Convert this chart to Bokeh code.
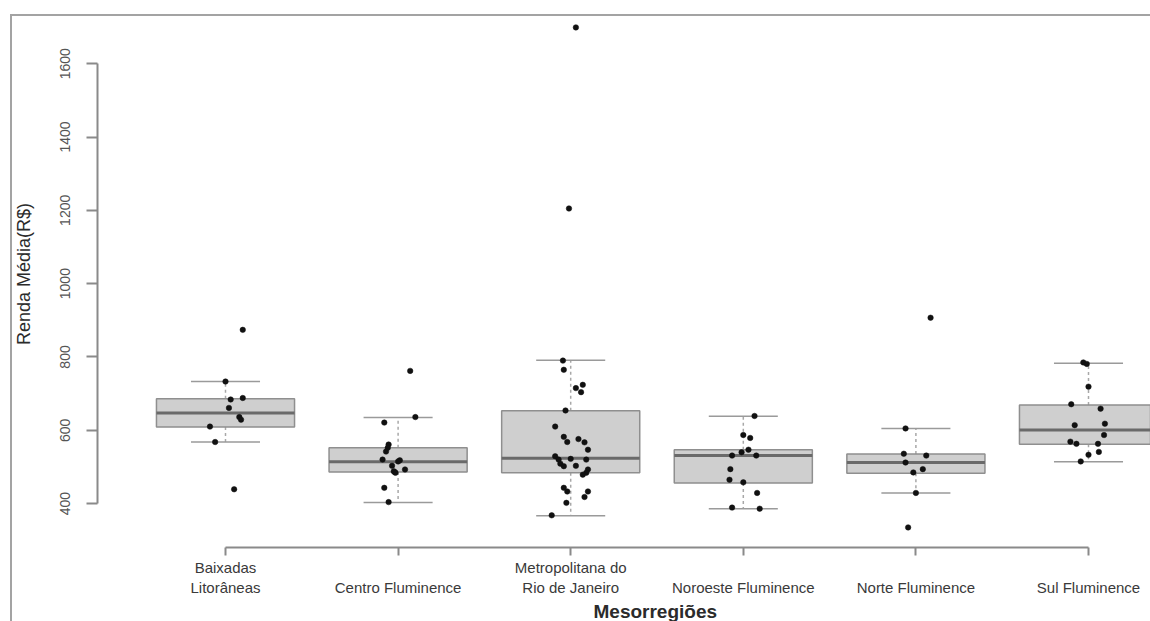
import numpy as np
from bokeh.plotting import figure
from bokeh.models import Range1d, FixedTicker, ColumnDataSource, Title
from bokeh.embed import file_html
from bokeh.resources import INLINE

# ---------------- data ----------------
categories = ["Baixadas\nLitorâneas", "\nCentro Fluminence", "Metropolitana do\nRio de Janeiro",
              "\nNoroeste Fluminence", "\nNorte Fluminence", "\nSul Fluminence"]

# box statistics (R$): lower whisker, Q1, median, Q3, upper whisker
whisker_low = [568, 403, 367, 386, 429, 514]
q1 = [609, 486, 484, 456, 483, 562]
median = [647, 514, 524, 531, 512, 601]
q3 = [686, 552, 653, 547, 535, 669]
whisker_high = [733, 635, 791, 638, 605, 783]

# individual municipalities (value, horizontal jitter in category units)
baixadas_vals = [874, 733, 684, 688, 661, 636, 629, 610, 568, 439]
baixadas_jit = [0.10, 0.00, 0.03, 0.10, 0.02, 0.08, 0.09, -0.09, -0.06, 0.05]

centro_vals = [762, 636, 621, 561, 552, 542, 520, 518, 515, 503, 493, 488, 486, 484, 443, 404]
centro_jit = [0.07, 0.10, -0.08, -0.055, -0.06, -0.07, -0.09, 0.01, 0.00, -0.035, 0.04, -0.025,
              -0.02, -0.015, -0.08, -0.055]

metro_vals = [1699, 1205, 790, 765, 724, 715, 704, 654, 610, 582, 576, 568, 567, 547, 529,
              522, 520, 520, 509, 503, 502, 493, 484, 479, 443, 433, 433, 418, 402, 368]
metro_jit = [0.03, -0.01, -0.045, -0.04, 0.07, 0.03, 0.06, -0.03, -0.09, -0.04, 0.045, -0.02,
             0.08, 0.10, -0.09, 0.00, -0.07, 0.09, -0.06, 0.03, -0.04, 0.10, 0.09, 0.07,
             -0.04, -0.02, 0.10, 0.08, -0.025, -0.11]

noroeste_vals = [639, 587, 579, 547, 540, 531, 531, 494, 465, 458, 429, 389, 386]
noroeste_jit = [0.065, 0.00, 0.04, 0.03, -0.01, -0.065, 0.075, -0.075, -0.08, 0.00, 0.08,
                -0.065, 0.095]

norte_vals = [907, 605, 536, 531, 512, 494, 485, 429, 335]
norte_jit = [0.085, -0.06, -0.07, 0.06, -0.06, 0.04, -0.015, 0.00, -0.045]

sul_vals = [785, 781, 719, 671, 659, 614, 618, 587, 569, 563, 563, 541, 533, 515]
sul_jit = [-0.03, -0.01, 0.00, -0.10, 0.07, -0.08, 0.095, 0.09, -0.105, -0.07, 0.055, 0.06,
           0.00, -0.045]

y_ticks = [400, 600, 800, 1000, 1200, 1400, 1600]
x_title = "Mesorregiões"
y_title = "Renda Média(R$)"

# ---------------- build sources ----------------
pos = np.arange(1, len(categories) + 1, dtype=float)
BOX_W = 0.8
CAP_W = 0.4

box_src = ColumnDataSource(dict(
    x=pos, q1=q1, q3=q3, med=median, lo=whisker_low, hi=whisker_high,
    x0=pos - BOX_W / 2, x1=pos + BOX_W / 2,
    c0=pos - CAP_W / 2, c1=pos + CAP_W / 2,
))

groups = [(baixadas_vals, baixadas_jit), (centro_vals, centro_jit), (metro_vals, metro_jit),
          (noroeste_vals, noroeste_jit), (norte_vals, norte_jit), (sul_vals, sul_jit)]
px, py = [], []
for p_i, (vals, jit) in zip(pos, groups):
    px.extend([p_i + j for j in jit])
    py.extend(vals)
pt_src = ColumnDataSource(dict(x=px, y=py))

# ---------------- figure ----------------
p = figure(width=1150, height=621, output_backend="svg", toolbar_location=None,
           x_range=Range1d(0.2584, 6.3592), y_range=Range1d(280.2, 1772.4),
           min_border_left=97, min_border_right=0, min_border_top=0, min_border_bottom=73)
p.background_fill_alpha = 0
p.border_fill_alpha = 0
p.outline_line_color = None
p.xgrid.visible = False
p.ygrid.visible = False
p.styles = {
    "background": ("linear-gradient(#a3a3a3,#a3a3a3) 10px 14px / 2px calc(100% - 14px) no-repeat, "
                   "linear-gradient(#a3a3a3,#a3a3a3) 10px 14px / calc(100% - 10px) 2px no-repeat"),
}

GRAY_LINE = "#9a9a9a"
# whiskers (dashed)
p.segment(x0="x", x1="x", y0="q3", y1="hi", source=box_src, line_color="#a8a8a8",
          line_width=1.5, line_dash="3 3")
p.segment(x0="x", x1="x", y0="q1", y1="lo", source=box_src, line_color="#a8a8a8",
          line_width=1.5, line_dash="3 3")
# caps
p.segment(x0="c0", x1="c1", y0="hi", y1="hi", source=box_src, line_color=GRAY_LINE, line_width=1.5)
p.segment(x0="c0", x1="c1", y0="lo", y1="lo", source=box_src, line_color=GRAY_LINE, line_width=1.5)
# boxes
p.vbar(x="x", width=BOX_W, bottom="q1", top="q3", source=box_src, fill_color="#cfcfcf",
       line_color="#8f8f8f", line_width=1.5)
# medians
p.segment(x0="x0", x1="x1", y0="med", y1="med", source=box_src, line_color="#6a6a6a", line_width=3)
# points
p.scatter(x="x", y="y", source=pt_src, size=5.5, fill_color="#111111", line_color="#111111",
          line_width=0.5)

AX_COLOR = "#8a8a8a"
FONT = "Liberation Sans"

# y axis
ya = p.yaxis[0]
ya.ticker = FixedTicker(ticks=y_ticks, minor_ticks=[])
ya.bounds = (y_ticks[0], y_ticks[-1])
ya.axis_line_color = AX_COLOR
ya.axis_line_width = 2
ya.major_tick_line_color = AX_COLOR
ya.major_tick_line_width = 2
ya.major_tick_out = 11
ya.major_tick_in = 0
ya.minor_tick_line_color = None
ya.major_label_orientation = "vertical"
ya.major_label_standoff = 16
ya.major_label_text_font = FONT
ya.major_label_text_font_size = "14px"
ya.major_label_text_color = "#555555"
ya.axis_label = y_title
ya.axis_label_standoff = 24
ya.axis_label_text_font = FONT
ya.axis_label_text_font_style = "normal"
ya.axis_label_text_font_size = "18px"
ya.axis_label_text_color = "#2b2b2b"

# x axis
xa = p.xaxis[0]
xa.ticker = FixedTicker(ticks=list(pos), minor_ticks=[])
xa.major_label_overrides = {float(k): lab for k, lab in zip(pos, categories)}
xa.bounds = (pos[0], pos[-1])
xa.axis_line_color = AX_COLOR
xa.axis_line_width = 2
xa.major_tick_line_color = AX_COLOR
xa.major_tick_line_width = 2
xa.major_tick_out = 8
xa.major_tick_in = 0
xa.minor_tick_line_color = None
xa.major_label_standoff = 3
xa.major_label_text_font = FONT
xa.major_label_text_font_size = "15px"
xa.major_label_text_color = "#3a3a3a"

# x axis title (R centres it on the full plot region, part of which is cropped away)
p.add_layout(Title(text=x_title, align="left", offset=496, standoff=0,
                   text_font=FONT, text_font_style="bold", text_font_size="19px",
                   text_color="#2b2b2b"), "below")

open("out.html", "w").write(file_html(p, INLINE))
